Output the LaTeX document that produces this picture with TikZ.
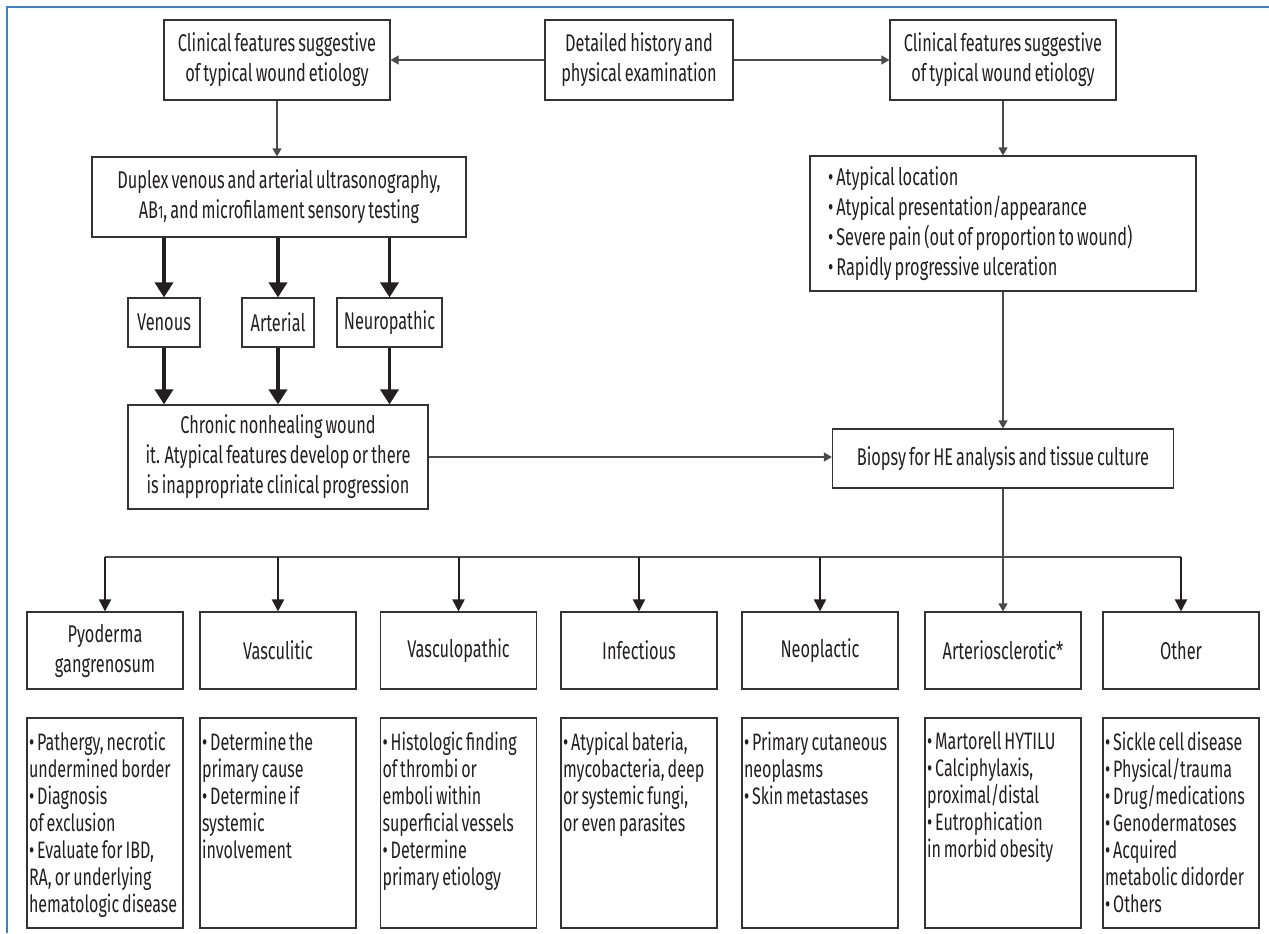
\documentclass[tikz,border=0pt]{standalone}
\usepackage{fontspec}
\setmainfont{Fira Sans}[FakeStretch=0.675, WordSpace=0.7]
\usepackage{xcolor}
\usepackage{tikz}
\usetikzlibrary{calc}
\usetikzlibrary{arrows.meta}
\definecolor{framecol}{HTML}{3D82C4}
\definecolor{boxcol}{HTML}{333333}
\definecolor{linecol}{HTML}{4A4A4A}
\definecolor{textcol}{HTML}{231F20}
\tikzset{>=latex}
\tikzstyle{box} = [draw = boxcol, line width = 0.6pt, align = center, inner sep = 0, text = textcol, font = \fontsize{12.1}{15}\selectfont]
\tikzstyle{cat} = [box, minimum width = 78pt, minimum height = 38.5pt]
\tikzstyle{detail} = [box, inner sep = 1pt]
\tikzstyle{plain} = [-, draw = linecol, line width = 0.6pt]
\tikzstyle{thinarr} = [-{Triangle[length = 4pt, width = 4.5pt]}, draw = linecol, line width = 0.6pt]
\tikzstyle{midarr} = [-{Triangle[length = 6pt, width = 6pt]}, draw = textcol, line width = 1pt]
\tikzstyle{thickarr} = [-{Triangle[length = 7.5pt, width = 9pt]}, draw = textcol, line width = 1.8pt]
\newcommand{\bul}{•}
\newcommand{\itemlist}[1]{\begin{minipage}[t][103pt][t]{76pt}\fontsize{11.9}{13.5}\selectfont\vspace*{6pt}\raggedright #1\end{minipage}}

\begin{document}
\begin{tikzpicture}[x = 0.5pt, y = -0.5pt]
\useasboundingbox (0, 0) rectangle (1269, 933);
\draw [draw = framecol, line width = 1pt] (7, 933) -- (7, 7) -- (1269, 7);

\node [box, minimum width = 94pt, minimum height = 40pt] (hist) at (639, 60) {Detailed history and\\physical examination};
\node [box, minimum width = 113pt, minimum height = 40pt] (clinL) at (277, 60) {Clinical features suggestive\\of typical wound etiology};
\node [box, minimum width = 113pt, minimum height = 40pt] (clinR) at (1003, 60) {Clinical features suggestive\\of typical wound etiology};
\node [box, minimum width = 187pt, minimum height = 40pt] (duplex) at (279, 197) {Duplex venous and arterial ultrasonography,\\AB{\fontsize{9}{9}\selectfont 1}, and microfilament sensory testing};
\node [box, minimum width = 36pt, minimum height = 24.5pt] (ven) at (164, 322.5) {Venous};
\node [box, minimum width = 36pt, minimum height = 24.5pt] (art) at (278, 322.5) {Arterial};
\node [box, minimum width = 52.5pt, minimum height = 24.5pt] (neu) at (389.5, 322.5) {Neuropathic};
\node [box, minimum width = 150pt, minimum height = 52pt] (chron) at (278, 457) {Chronic nonhealing wound\\it. Atypical features develop or there\\is inappropriate clinical progression};
\node [box, inner xsep = 9pt, minimum height = 67.5pt] (atyp) at (1003, 223.5) {\begin{minipage}{175pt}\raggedright\bul\ Atypical location\\\bul\ Atypical presentation/appearance\\\bul\ Severe pain (out of proportion to wound)\\\bul\ Rapidly progressive ulceration\end{minipage}};
\node [box, minimum width = 170.5pt, minimum height = 29.5pt] (biop) at (1003, 458.5) {Biopsy for HE analysis and tissue culture};
\coordinate (bar) at (0, 557);

\node [cat] (pyo) at (105, 650.5) {Pyoderma\\gangrenosum};
\node [cat] (vasc) at (278, 650.5) {Vasculitic};
\node [cat] (vpath) at (458.5, 650.5) {Vasculopathic};
\node [cat] (infec) at (639, 650.5) {Infectious};
\node [cat] (neo) at (820, 650.5) {Neoplactic};
\node [cat] (arter) at (1003, 650.5) {Arteriosclerotic*};
\node [cat] (oth) at (1181, 650.5) {Other};

\node [detail] (pyoD) at (105, 823) {\itemlist{\bul\ Pathergy, necrotic\\undermined border\\\bul\ Diagnosis\\of exclusion\\\bul\ Evaluate for IBD,\\RA, or underlying\\hematologic disease}};
\node [detail] (vascD) at (278, 823) {\itemlist{\bul\ Determine the\\primary cause\\\bul\ Determine if\\systemic\\involvement}};
\node [detail] (vpathD) at (458.5, 823) {\itemlist{\bul\ Histologic finding\\of thrombi or\\emboli within\\superficial vessels\\\bul\ Determine\\primary etiology}};
\node [detail] (infecD) at (639, 823) {\itemlist{\bul\ Atypical bateria,\\mycobacteria, deep\\or systemic fungi,\\or even parasites}};
\node [detail] (neoD) at (820, 823) {\itemlist{\bul\ Primary cutaneous\\neoplasms\\\bul\ Skin metastases}};
\node [detail] (arterD) at (1003, 823) {\itemlist{\bul\ Martorell HYTILU\\\bul\ Calciphylaxis,\\proximal/distal\\\bul\ Eutrophication\\in morbid obesity}};
\node [detail] (othD) at (1181, 823) {\itemlist{\bul\ Sickle cell disease\\\bul\ Physical/trauma\\\bul\ Drug/medications\\\bul\ Genodermatoses\\\bul\ Acquired\\metabolic didorder\\\bul\ Others}};

\draw [thinarr] (hist) to (clinL);
\draw [thinarr] (hist) to (clinR);
\draw [thinarr] (clinL) to (clinL |- duplex.north);
\draw [thinarr] (clinR) to (atyp);
\draw [thickarr] (ven |- duplex.south) to (ven);
\draw [thickarr] (art |- duplex.south) to (art);
\draw [thickarr] (neu |- duplex.south) to (neu);
\draw [thickarr] (ven) to (ven |- chron.north);
\draw [thickarr] (art) to (art |- chron.north);
\draw [thickarr] (neu) to (neu |- chron.north);
\draw [thinarr] (chron.east) to (chron.east -| biop.west);
\draw [thinarr] (atyp) to (biop);
\draw [plain] (biop) to (biop |- bar);
\draw [plain] (pyo |- bar) to (oth |- bar);
\draw [midarr] (pyo |- bar) to (pyo);
\draw [midarr] (vasc |- bar) to (vasc);
\draw [midarr] (vpath |- bar) to (vpath);
\draw [midarr] (infec |- bar) to (infec);
\draw [midarr] (neo |- bar) to (neo);
\draw [thinarr] (arter |- bar) to (arter);
\draw [midarr] (oth |- bar) to (oth);
\end{tikzpicture}
\end{document}
